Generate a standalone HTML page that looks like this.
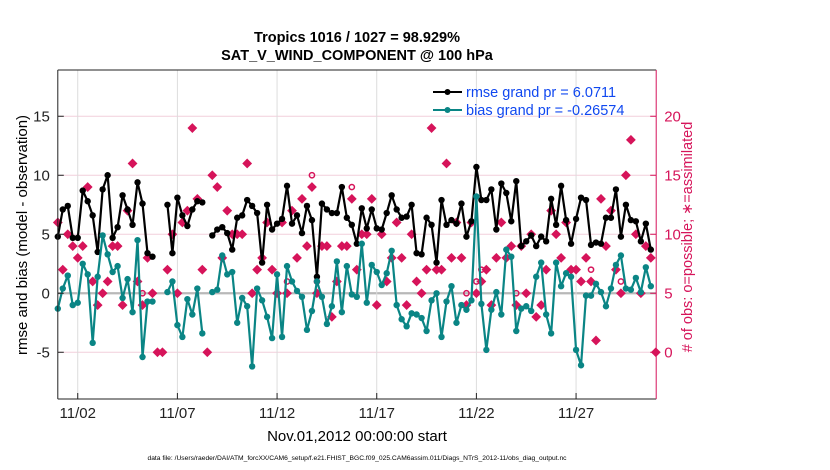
<!DOCTYPE html>
<html><head><meta charset="utf-8"><style>
body{margin:0;background:#fff;}
svg{display:block;font-family:"Liberation Sans",Arial,sans-serif;}
</style></head><body>
<svg id="chart" width="830" height="470" viewBox="0 0 830 470" xmlns="http://www.w3.org/2000/svg">
<rect width="830" height="470" fill="#fff"/>
<g id="grid"></g>
<g id="series"></g>
<g id="axes"></g>
<text x="357" y="42" text-anchor="middle" font-size="14.5" font-weight="bold">Tropics 1016 / 1027 = 98.929%</text>
<text x="357" y="60" text-anchor="middle" font-size="14.5" font-weight="bold">SAT_V_WIND_COMPONENT @ 100 hPa</text>
<text transform="translate(27,235) rotate(-90)" text-anchor="middle" font-size="15">rmse and bias (model - observation)</text>
<text transform="translate(692,237) rotate(-90)" text-anchor="middle" font-size="14.5" fill="#d6145a"># of obs: o=possible; ∗=assimilated</text>
<text x="357" y="441" text-anchor="middle" font-size="15">Nov.01,2012 00:00:00 start</text>
<text x="357" y="460" text-anchor="middle" font-size="6.7">data file: /Users/raeder/DAI/ATM_forcXX/CAM6_setup/f.e21.FHIST_BGC.f09_025.CAM6assim.011/Diags_NTrS_2012-11/obs_diag_output.nc</text>
<g>
<line x1="433" y1="92" x2="462" y2="92" stroke="#000" stroke-width="2"/>
<circle cx="447.5" cy="92" r="3" fill="#000"/>
<text x="466" y="97" font-size="14.5" fill="#1048f0">rmse grand pr = 6.0711</text>
<line x1="433" y1="110" x2="462" y2="110" stroke="#0a8585" stroke-width="2"/>
<circle cx="447.5" cy="110" r="3" fill="#0a8585"/>
<text x="466" y="115" font-size="14.5" fill="#1048f0">bias grand pr = -0.26574</text>
</g>
</svg>
<script>
const rmse=[4.8,7.1,7.4,4.7,4.7,8.7,7.8,6.6,3.5,8.8,10.0,4.7,5.6,8.3,7.1,5.8,9.4,7.6,3.4,3.1,null,null,7.5,3.4,8.1,6.6,5.7,7.1,7.8,7.7,
null,
4.9,5.4,5.6,5.1,3.7,6.4,6.6,7.9,7.4,6.8,2.6,7.5,5.4,5.9,6.3,9.1,5.9,6.6,5.1,7.4,6.2,1.4,7.6,7.1,6.8,6.8,9.0,6.4,5.8,4.2,
7.2,5.5,7.1,5.5,5.4,6.8,8.3,7.1,6.4,6.5,7.5,3.4,3.3,6.4,5.8,2.6,7.9,5.8,6.2,5.9,7.6,4.8,6.1,10.7,7.9,7.9,8.8,5.4,9.3,
8.5,6.1,9.5,4.0,4.4,4.9,4.0,4.8,4.4,8.0,5.8,9.1,6.2,4.2,6.3,8.1,7.9,4.1,4.3,4.2,6.4,6.4,8.8,4.8,7.5,6.2,6.1,4.4,5.9,3.7,
null];
const bias=[-1.3,0.4,1.5,-1.0,-0.8,2.5,1.6,-4.2,1.4,4.9,3.3,1.8,2.3,-0.4,1.2,-1.6,4.5,-5.4,-0.7,-0.7,null,null,0.1,1.0,-2.7,-3.7,-0.5,-1.8,0.4,-3.4,
null,
0.1,0.3,3.2,1.6,1.8,-2.5,-0.4,-1.1,-6.2,0.4,-0.6,-2.0,-3.8,1.6,-3.7,2.3,1.0,0.2,-0.3,-3.1,-1.5,1.0,-0.3,-2.6,-1.1,2.7,-1.6,2.3,-0.1,-0.3,
4.2,-0.8,2.4,1.8,0.7,1.7,3.6,-1.0,-2.2,-2.8,-1.7,-1.8,-2.1,-3.2,-0.6,0.0,-3.7,-0.7,0.6,-2.5,-1.0,-1.4,-0.6,8.2,-0.9,-4.8,-1.4,0.1,-1.8,
3.7,3.1,-3.2,-1.3,-1.1,-1.5,1.4,2.6,-1.8,-3.4,2.6,0.6,1.7,1.4,-4.8,-6.1,-0.2,-0.2,0.8,0.1,-1.1,0.4,2.4,3.2,0.4,0.3,1.3,0.1,2.2,0.6,
null];
const nAssim=[11,7,10,9,8,9,14,6,4,5,6,9,9,4,12,16,6,4,8,5,0,0,7,10,5,11,12,19,13,7,
0,
15,14,8,12,10,10,10,16,5,7,8,11,7,5,11,5,12,8,13,9,14,5,9,9,3,6,9,9,13,7,
10,10,13,4,10,6,8,11,8,4,10,6,5,7,19,7,7,16,8,11,8,4,11,5,6,7,4,8,11,
8,9,4,9,5,10,3,4,7,12,10,8,11,7,7,6,8,6,1,13,9,12,7,5,15,18,10,5,9,8,
0];
const possibleIdx=[17,46,51,52,59,82,84,85,92,107,113];
const possibleVals=[5,6,15,6,14,5,6,7,5,7,6];
const stepDays=0.25;
const xTickDays=[1,6,11,16,21,26];
const xTickLabels=["11/02","11/07","11/12","11/17","11/22","11/27"];
const leftTicks=[-5,0,5,10,15];
const rightTicks=[0,5,10,15,20];

const NS="http://www.w3.org/2000/svg";
const L=57.8,R=656.2,T=70,B=399;
const xMin=0,xMax=30.02,yMin=-8.96,yMax=18.92,rOff=5;
const xS=d=>L+(d-xMin)/(xMax-xMin)*(R-L);
const yS=v=>B-(v-yMin)/(yMax-yMin)*(B-T);
const yR=n=>yS(n-rOff);
function mk(tag,attrs,parent){const e=document.createElementNS(NS,tag);for(const k in attrs)e.setAttribute(k,attrs[k]);parent.appendChild(e);return e;}
const grid=document.getElementById('grid'),ser=document.getElementById('series'),ax=document.getElementById('axes');

leftTicks.forEach(v=>{
  const g=mk('line',{x1:L,x2:R,y1:yS(v),y2:yS(v),stroke:v===0?'#b8b8b8':'#f2cfdc','stroke-width':v===0?2.2:1},grid);
  
  
});
xTickDays.forEach(d=>{
  const g=mk('line',{x1:xS(d),x2:xS(d),y1:T,y2:B,stroke:'#dcdcdc','stroke-width':1},grid);
  
  
});

function drawLine(vals,color,name){
  let seg=[];const segs=[];
  vals.forEach((v,i)=>{if(v===null){if(seg.length)segs.push(seg);seg=[];}else seg.push([xS(i*stepDays),yS(v)]);});
  if(seg.length)segs.push(seg);
  segs.forEach(s=>{
    const p=mk('polyline',{points:s.map(q=>q.join(',')).join(' '),fill:'none',stroke:color,'stroke-width':2.2,'stroke-linejoin':'round'},ser);
    
    
  });
  vals.forEach((v,i)=>{if(v===null)return;
    const c=mk('circle',{cx:xS(i*stepDays),cy:yS(v),r:3.2,fill:color},ser);
    
    
  });
}
nAssim.forEach((n,i)=>{
  const x=xS(i*stepDays),y=yR(n),r=4.2;
  const p=mk('path',{d:`M${x},${y-r}L${x+r},${y}L${x},${y+r}L${x-r},${y}Z`,fill:'#d6145a',stroke:'#d6145a','stroke-width':1},ser);
  
  
});
possibleIdx.forEach((idx,j)=>{
  const c=mk('circle',{cx:xS(idx*stepDays),cy:yR(possibleVals[j]),r:2.6,fill:'none',stroke:'#d6145a','stroke-width':1.5},ser);
  
  
});
drawLine(rmse,'#000','rmse');
drawLine(bias,'#0a8585','bias');

let a=mk('line',{x1:L,x2:L,y1:T,y2:B,stroke:'#222','stroke-width':1},ax);

a=mk('line',{x1:L,x2:R,y1:B,y2:B,stroke:'#222','stroke-width':1},ax);

a=mk('line',{x1:L,x2:R,y1:T,y2:T,stroke:'#222','stroke-width':1},ax);

a=mk('line',{x1:R,x2:R,y1:T,y2:B,stroke:'#d6145a','stroke-width':1},ax);

leftTicks.forEach(v=>{
  const y=yS(v);
  mk('line',{x1:L,x2:L+6,y1:y,y2:y,stroke:'#222'},ax);
  const t=mk('text',{x:L-8,y:y+5,'text-anchor':'end','font-size':15,fill:'#222'},ax);
  t.textContent=v;
  
  
});
rightTicks.forEach(n=>{
  const y=yR(n);
  mk('line',{x1:R-6,x2:R,y1:y,y2:y,stroke:'#d6145a'},ax);
  const t=mk('text',{x:R+8,y:y+5,'font-size':15,fill:'#d6145a'},ax);
  t.textContent=n;
  
  
});
xTickDays.forEach((d,i)=>{
  const x=xS(d);
  mk('line',{x1:x,x2:x,y1:B-6,y2:B,stroke:'#222'},ax);
  const t=mk('text',{x:x,y:B+19,'text-anchor':'middle','font-size':15,fill:'#222'},ax);
  t.textContent=xTickLabels[i];
  
  
});
</script>
</body></html>
